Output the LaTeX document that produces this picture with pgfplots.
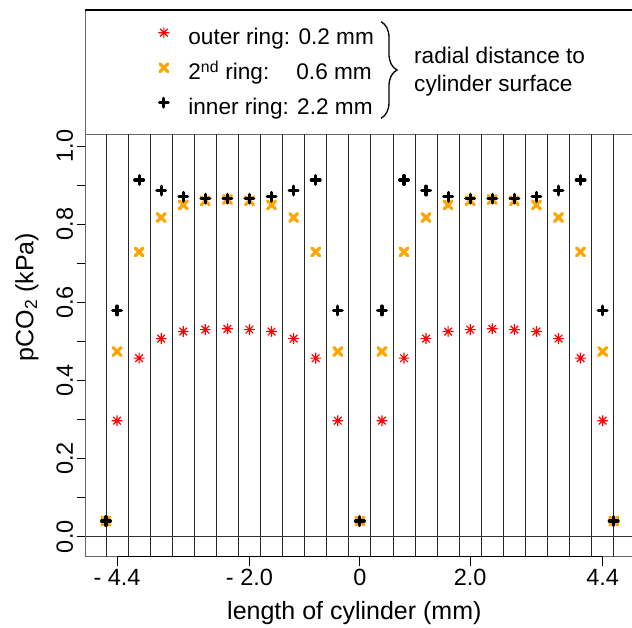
\documentclass[border=0pt]{standalone}
\usepackage{fontspec}
\setmainfont{Liberation Sans}
\usepackage{pgfplots}
\usepackage{pgfplotstable}
\pgfplotsset{compat=1.18}
\usetikzlibrary{decorations.pathreplacing}

\newcommand\tickfont{\fontsize{23.5}{27}\selectfont}
\newcommand\labfont{\fontsize{25}{30}\selectfont}
\newcommand\legfont{\fontsize{22.6}{28.4}\selectfont}

\definecolor{rred}{RGB}{255,0,0}
\definecolor{rorange}{RGB}{255,165,0}

\pgfdeclareplotmark{rstar}{%
  \pgfpathmoveto{\pgfqpoint{-\pgfplotmarksize}{0pt}}\pgfpathlineto{\pgfqpoint{\pgfplotmarksize}{0pt}}%
  \pgfpathmoveto{\pgfqpoint{0pt}{-\pgfplotmarksize}}\pgfpathlineto{\pgfqpoint{0pt}{\pgfplotmarksize}}%
  \pgfpathmoveto{\pgfqpoint{-0.7071\pgfplotmarksize}{-0.7071\pgfplotmarksize}}\pgfpathlineto{\pgfqpoint{0.7071\pgfplotmarksize}{0.7071\pgfplotmarksize}}%
  \pgfpathmoveto{\pgfqpoint{-0.7071\pgfplotmarksize}{0.7071\pgfplotmarksize}}\pgfpathlineto{\pgfqpoint{0.7071\pgfplotmarksize}{-0.7071\pgfplotmarksize}}%
  \pgfusepathqstroke}

\pgfplotstableread{
x      outer  second inner
-4.6   0.040  0.040  0.040
-4.4   0.297  0.474  0.579
-4.0   0.457  0.729  0.913
-3.6   0.507  0.817  0.886
-3.2   0.525  0.849  0.870
-2.8   0.530  0.860  0.865
-2.4   0.532  0.863  0.865
-2.0   0.530  0.860  0.865
-1.6   0.525  0.849  0.870
-1.2   0.507  0.817  0.886
-0.8   0.457  0.729  0.913
-0.4   0.297  0.474  0.579
 0.0   0.040  0.040  0.040
 0.4   0.297  0.474  0.579
 0.8   0.457  0.729  0.913
 1.2   0.507  0.817  0.886
 1.6   0.525  0.849  0.870
 2.0   0.530  0.860  0.865
 2.4   0.532  0.863  0.865
 2.8   0.530  0.860  0.865
 3.2   0.525  0.849  0.870
 3.6   0.507  0.817  0.886
 4.0   0.457  0.729  0.913
 4.4   0.297  0.474  0.579
 4.6   0.040  0.040  0.040
}\data

\begin{document}
\begin{tikzpicture}[x=1pt,y=1pt]
\useasboundingbox (0,0) rectangle (632,627);
% legend frame (top region)
\draw[black!60, line width=0.8pt] (85.7,493) -- (85.7,617);
\draw[black, line width=1.8pt] (85.3,617) -- (640,617);
\draw[decorate, decoration={brace, amplitude=16pt}, line width=1.3pt] (381,605.3) -- (381,508.7);
\node[anchor=west, align=left, inner sep=0pt, font=\legfont] at (414,555.2) {radial distance to\\cylinder surface};

\begin{axis}[
  at={(85.7pt,70.3pt)}, anchor=south west,
  scale only axis, width=548.3pt, height=422.7pt,
  xmin=-4.968, xmax=4.968, ymin=-0.0512, ymax=1.0307,
  axis line style={black!60, line width=0.8pt},
  tick align=outside, major tick length=9pt, minor tick length=9pt,
  xtick pos=bottom, ytick pos=left,
  tick style={black, line width=0.9pt},
  xtick={-4.4,-2,0,2,4.4},
  xticklabels={- 4.4,- 2.0,0,2.0,4.4},
  ytick={0,0.2,0.4,0.6,0.8,1.0},
  yticklabels={0.0,0.2,0.4,0.6,0.8,1.0},
  minor ytick={0.1,0.3,0.5,0.7,0.9},
  /pgf/number format/assume math mode=true,
  ticklabel style={font=\tickfont},
  yticklabel style={rotate=90, anchor=south},
  xlabel={length of cylinder (mm)},
  ylabel={pCO\textsubscript{2} (kPa)},
  label style={font=\labfont},
  xlabel style={at={(axis description cs:0.49,-0.133)}, anchor=center},
  ylabel style={at={(axis description cs:-0.107,0.614)}, anchor=center},
  legend style={draw=none, fill=none, inner sep=0pt, outer sep=0pt,
    at={(axis description cs:0.12949,1.25243)}, anchor=north west,
    font=\legfont, row sep=13pt,
    nodes={inner sep=0pt, text height=17pt, text depth=5pt}},
  legend cell align=left,
  legend image code/.code={\path (-10pt,0pt) (21.3pt,0pt); \draw[#1] plot coordinates {(-3pt,6pt)};},
  clip=false,
]
\pgfplotsinvokeforeach{-4.6,-4.2,-3.8,-3.4,-3.0,-2.6,-2.2,-1.8,-1.4,-1.0,-0.6,-0.2,0.2,0.6,1.0,1.4,1.8,2.2,2.6,3.0,3.4,3.8,4.2,4.6}{
  \draw[black!85, line width=0.9pt] (axis cs:#1,-0.0512) -- (axis cs:#1,1.0307);
}
\draw[black!80, line width=0.8pt] (axis cs:-4.968,0) -- (axis cs:4.968,0);
\draw[black, line width=1.2pt] (axis cs:-4.4,-0.0512) -- (axis cs:4.4,-0.0512);

\addplot[only marks, mark=rstar, mark size=5.4pt, rred, mark options={line width=1.2pt}] table[x=x, y=outer] {\data};
\addlegendentry{outer ring: 0.2 mm}
\addplot[only marks, mark=x, mark size=5.6pt, rorange, mark options={line width=3.2pt, line cap=round}] table[x=x, y=second] {\data};
\addlegendentry{\rlap{2\textsuperscript{nd} ring:}\phantom{outer ring:} 0.6 mm}
\addplot[only marks, mark=+, mark size=4.4pt, black, mark options={line width=3.2pt, line cap=round}] table[x=x, y=inner] {\data};
\addlegendentry{inner ring: 2.2 mm}
\end{axis}
\end{tikzpicture}
\end{document}
